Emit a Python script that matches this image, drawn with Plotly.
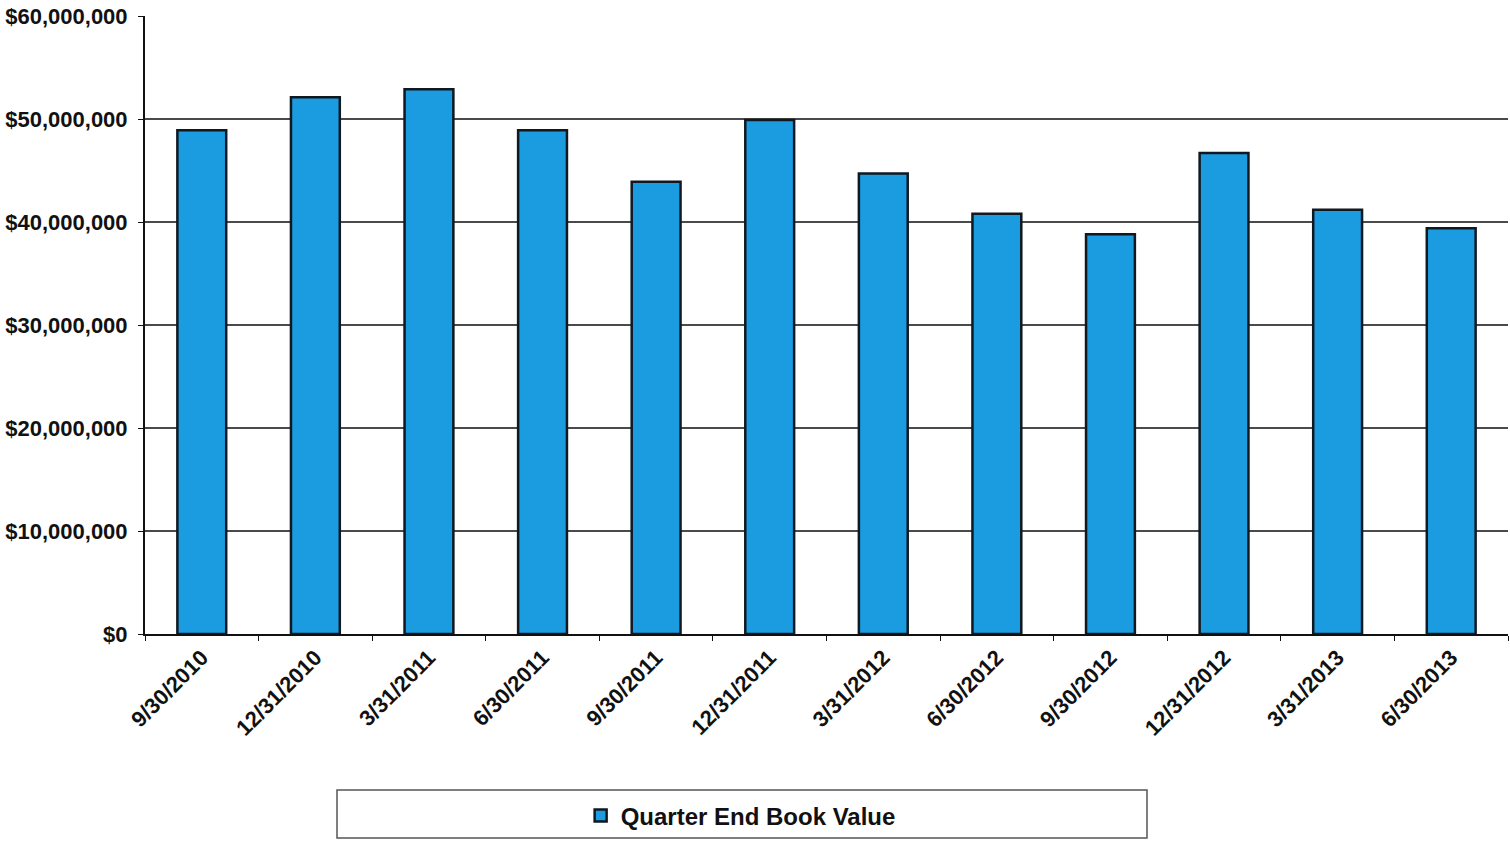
import plotly.graph_objects as go

categories = ["9/30/2010", "12/31/2010", "3/31/2011", "6/30/2011", "9/30/2011", "12/31/2011",
              "3/31/2012", "6/30/2012", "9/30/2012", "12/31/2012", "3/31/2013", "6/30/2013"]
book_value = [48.9e6, 52.1e6, 52.9e6, 48.9e6, 43.9e6, 49.9e6,
              44.7e6, 40.8e6, 38.8e6, 46.7e6, 41.2e6, 39.4e6]
series_name = "Quarter End Book Value"

FONT = "Liberation Sans, Arial, sans-serif"

fig = go.Figure()
fig.add_trace(go.Bar(
    x=categories, y=book_value, name=series_name,
    marker=dict(color="#1b9be0", line=dict(color="#101820", width=2.5)),
    width=0.43,
))

fig.update_layout(
    width=1510, height=844,
    margin=dict(l=145, r=2, t=16, b=210),
    paper_bgcolor="white", plot_bgcolor="white",
    font=dict(family=FONT, color="#111111"),
    showlegend=True,
    legend=dict(orientation="h", x=0.437, xanchor="center", y=(634 - 816) / 618, yanchor="middle",
                font=dict(size=24, family=FONT, weight="bold", color="#111"),
                bgcolor="rgba(0,0,0,0)", itemwidth=30),
    shapes=[dict(type="rect", xref="paper", yref="paper",
                 x0=(337 - 145) / 1363, x1=(1147 - 145) / 1363,
                 y0=(634 - 838) / 618, y1=(634 - 790) / 618,
                 line=dict(color="#555", width=1.5), fillcolor="rgba(0,0,0,0)")],
)
fig.update_yaxes(
    range=[0, 60e6], dtick=10e6, tickformat="$,.0f",
    showgrid=True, gridcolor="#4a4a4a", gridwidth=1.5,
    showline=True, linecolor="#111", linewidth=2,
    ticks="outside", ticklen=5, tickcolor="#111", ticklabelstandoff=6,
    tickfont=dict(size=22, family=FONT, weight="bold", color="#111"),
    zeroline=False,
)
fig.update_xaxes(
    type="category", tickangle=-45,
    showline=True, linecolor="#111", linewidth=2,
    ticks="outside", ticklen=5, tickcolor="#111", tickson="boundaries",
    tickfont=dict(size=22, family=FONT, weight="bold", color="#111"),
    showgrid=False,
)

fig.write_html("out.html")
